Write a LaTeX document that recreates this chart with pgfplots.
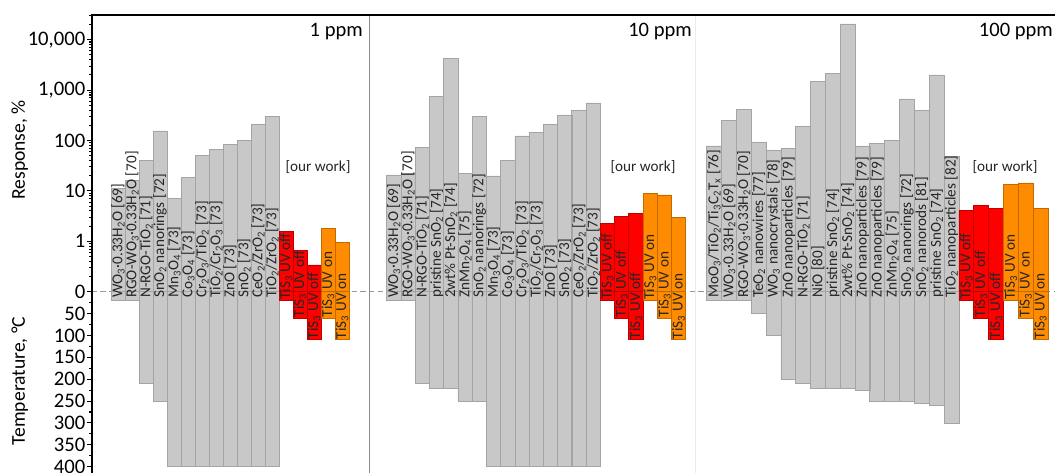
\documentclass[border=0pt]{standalone}
\usepackage{pgfplots}
\pgfplotsset{compat=1.18}
\usepackage{pgfplotstable}
\usepackage{fontspec}
\setmainfont{Carlito}
\definecolor{barg}{HTML}{C8C8C8}
\definecolor{edgeg}{HTML}{A4A4A4}
\definecolor{barr}{HTML}{FF0000}
\definecolor{edger}{HTML}{C00000}
\definecolor{baro}{HTML}{FF8C00}
\definecolor{edgeo}{HTML}{C06A00}
\newcommand{\s}[1]{\textsubscript{#1}}
\tikzset{glab/.style={rotate=90, anchor=west, inner sep=0pt, font=\fontsize{11.4}{12}\selectfont, text=black!85}}
\newcommand{\gl}[2]{\node[glab] at (axis cs:#1,-6.3) {#2};}
\newcommand{\tl}[3]{\node[glab] at (axis cs:#1,{-0.4375*#2+0.5}) {#3};}

% panel 1 (1 ppm): x = bar centre, R = response %, T = temperature C
\pgfplotstableread{
x R T
26.3 11 20
40.3 16 20
54.3 41 210
68.3 155 250
82.3 7.1 400
96.3 18.3 400
110.3 51 400
124.3 67 400
138.3 84 400
152.3 101 400
166.3 210 400
180.3 297 400
}\pAg
\pgfplotstableread{
x R T
194.3 1.55 20
208.3 0.67 60
222.3 0.34 110
}\pAr
\pgfplotstableread{
x R T
236.3 1.81 60
250.3 0.95 110
}\pAo
% panel 2 (10 ppm)
\pgfplotstableread{
x R T
302.1 20.7 20
316.3 22 20
330.6 72 210
344.8 740 220
359.1 4270 220
373.3 22.3 250
387.5 306 250
401.8 19.8 400
416.0 41 400
430.3 123 400
444.5 146 400
458.7 210 400
473.0 321 400
487.2 397 400
501.5 555 400
}\pBg
\pgfplotstableread{
x R T
515.7 2.23 20
529.9 3.08 60
544.2 3.59 110
}\pBr
\pgfplotstableread{
x R T
558.4 8.96 20
572.7 8.3 60
586.9 2.99 110
}\pBo
% panel 3 (100 ppm)
\pgfplotstableread{
x R T
622.4 78 20
637.2 254 20
652.1 416 20
666.9 90 50
681.7 63 100
696.6 70 200
711.4 188 210
726.2 1470 220
741.0 2150 220
755.9 20500 220
770.7 78 225
785.5 86.5 250
800.4 102 250
815.2 666 250
830.0 390 255
844.9 2000 260
859.7 47.7 300
}\pCg
\pgfplotstableread{
x R T
874.5 4.05 20
889.3 5.08 60
904.2 4.43 110
}\pCr
\pgfplotstableread{
x R T
919.0 13.7 20
933.8 14.4 60
948.7 4.52 110
}\pCo

\begin{document}
\begin{tikzpicture}
\path[use as bounding box] (0,0) rectangle (791.25pt,354.75pt);
\begin{axis}[
  at={(68.775pt,0pt)}, anchor=south west,
  scale only axis, width=722.5pt, height=343.5pt,
  xmin=0, xmax=963.3, ymin=-181.3, ymax=276.7,
  axis line style={draw=none},
  xtick=\empty,
  ytick={-175,-153.125,-131.25,-109.375,-87.5,-65.625,-43.75,-21.875,0,50.4,100.8,151.2,201.6,252},
  yticklabels={400,350,300,250,200,150,100,50,0,1,10,100,{1,000},{10,000}},
  minor ytick={-10.94,-32.81,-54.69,-76.56,-98.44,-120.31,-142.19,-164.06,
    15.17,24.05,30.34,35.23,39.22,42.59,45.52,48.09,
    65.57,74.45,80.74,85.63,89.62,92.99,95.92,98.49,
    115.97,124.85,131.14,136.03,140.02,143.39,146.32,148.89,
    166.37,175.25,181.54,186.43,190.42,193.79,196.72,199.29,
    216.77,225.65,231.94,236.83,240.82,244.19,247.12,249.69,
    267.17,276.05},
  ytick pos=left, tick align=outside,
  major tick length=3.6pt, minor tick length=2pt,
  tick style={black, line width=0.8pt},
  yticklabel style={font=\fontsize{15.5}{18}\selectfont, inner sep=1pt},
  clip=false,
]
% zero line and panel dividers
\draw[gray!80, dash pattern=on 4pt off 2.5pt, line width=0.7pt] (axis cs:0,0) -- (axis cs:963.3,0);
\draw[black!45, line width=0.6pt] (axis cs:277.3,-181.3) -- (axis cs:277.3,276.7);
\draw[black!8, line width=0.6pt] (axis cs:603.3,-181.3) -- (axis cs:603.3,276.7);

% panel 1
\addplot[ybar, bar shift=0, bar width=14, fill=barg, draw=edgeg, line width=0.5pt] table[x=x, y expr={50.4*(log10(\thisrow{R})+1)}] {\pAg};
\addplot[ybar, bar shift=0, bar width=14, fill=barg, draw=edgeg, line width=0.5pt] table[x=x, y expr={-0.4375*\thisrow{T}}] {\pAg};
\addplot[ybar, bar shift=0, bar width=14, fill=barr, draw=edger, line width=0.5pt] table[x=x, y expr={50.4*(log10(\thisrow{R})+1)}] {\pAr};
\addplot[ybar, bar shift=0, bar width=14, fill=barr, draw=edger, line width=0.5pt] table[x=x, y expr={-0.4375*\thisrow{T}}] {\pAr};
\addplot[ybar, bar shift=0, bar width=14, fill=baro, draw=edgeo, line width=0.5pt] table[x=x, y expr={50.4*(log10(\thisrow{R})+1)}] {\pAo};
\addplot[ybar, bar shift=0, bar width=14, fill=baro, draw=edgeo, line width=0.5pt] table[x=x, y expr={-0.4375*\thisrow{T}}] {\pAo};
% panel 2
\addplot[ybar, bar shift=0, bar width=14.24, fill=barg, draw=edgeg, line width=0.5pt] table[x=x, y expr={50.4*(log10(\thisrow{R})+1)}] {\pBg};
\addplot[ybar, bar shift=0, bar width=14.24, fill=barg, draw=edgeg, line width=0.5pt] table[x=x, y expr={-0.4375*\thisrow{T}}] {\pBg};
\addplot[ybar, bar shift=0, bar width=14.24, fill=barr, draw=edger, line width=0.5pt] table[x=x, y expr={50.4*(log10(\thisrow{R})+1)}] {\pBr};
\addplot[ybar, bar shift=0, bar width=14.24, fill=barr, draw=edger, line width=0.5pt] table[x=x, y expr={-0.4375*\thisrow{T}}] {\pBr};
\addplot[ybar, bar shift=0, bar width=14.24, fill=baro, draw=edgeo, line width=0.5pt] table[x=x, y expr={50.4*(log10(\thisrow{R})+1)}] {\pBo};
\addplot[ybar, bar shift=0, bar width=14.24, fill=baro, draw=edgeo, line width=0.5pt] table[x=x, y expr={-0.4375*\thisrow{T}}] {\pBo};
% panel 3
\addplot[ybar, bar shift=0, bar width=14.83, fill=barg, draw=edgeg, line width=0.5pt] table[x=x, y expr={50.4*(log10(\thisrow{R})+1)}] {\pCg};
\addplot[ybar, bar shift=0, bar width=14.83, fill=barg, draw=edgeg, line width=0.5pt] table[x=x, y expr={-0.4375*\thisrow{T}}] {\pCg};
\addplot[ybar, bar shift=0, bar width=14.83, fill=barr, draw=edger, line width=0.5pt] table[x=x, y expr={50.4*(log10(\thisrow{R})+1)}] {\pCr};
\addplot[ybar, bar shift=0, bar width=14.83, fill=barr, draw=edger, line width=0.5pt] table[x=x, y expr={-0.4375*\thisrow{T}}] {\pCr};
\addplot[ybar, bar shift=0, bar width=14.83, fill=baro, draw=edgeo, line width=0.5pt] table[x=x, y expr={50.4*(log10(\thisrow{R})+1)}] {\pCo};
\addplot[ybar, bar shift=0, bar width=14.83, fill=baro, draw=edgeo, line width=0.5pt] table[x=x, y expr={-0.4375*\thisrow{T}}] {\pCo};

% labels panel 1
\gl{26.3}{WO\s3·0.33H\s2O [69]}
\gl{40.3}{RGO-WO\s3·0.33H\s2O [70]}
\gl{54.3}{N-RGO-TiO\s2 [71]}
\gl{68.3}{SnO\s2 nanorings [72]}
\gl{82.3}{Mn\s3O\s4 [73]}
\gl{96.3}{Co\s3O\s4 [73]}
\gl{110.3}{Cr\s2O\s3/TiO\s2 [73]}
\gl{124.3}{TiO\s2/Cr\s2O\s3 [73]}
\gl{138.3}{ZnO [73]}
\gl{152.3}{SnO\s2 [73]}
\gl{166.3}{CeO\s2/ZrO\s2 [73]}
\gl{180.3}{TiO\s2/ZrO\s2 [73]}
\tl{194.3}{20}{TiS\s3 UV off}
\tl{208.3}{60}{TiS\s3 UV off}
\tl{222.3}{110}{TiS\s3 UV off}
\tl{236.3}{60}{TiS\s3 UV on}
\tl{250.3}{110}{TiS\s3 UV on}
% labels panel 2
\gl{302.1}{WO\s3·0.33H\s2O [69]}
\gl{316.3}{RGO-WO\s3·0.33H\s2O [70]}
\gl{330.6}{N-RGO-TiO\s2 [71]}
\gl{344.8}{pristine SnO\s2 [74]}
\gl{359.1}{2wt\% Pt-SnO\s2 [74]}
\gl{373.3}{ZnMn\s2O\s4 [75]}
\gl{387.5}{SnO\s2 nanorings [72]}
\gl{401.8}{Mn\s3O\s4 [73]}
\gl{416.0}{Co\s3O\s4 [73]}
\gl{430.3}{Cr\s2O\s3/TiO\s2 [73]}
\gl{444.5}{TiO\s2/Cr\s2O\s3 [73]}
\gl{458.7}{ZnO [73]}
\gl{473.0}{SnO\s2 [73]}
\gl{487.2}{CeO\s2/ZrO\s2 [73]}
\gl{501.5}{TiO\s2/ZrO\s2 [73]}
\tl{515.7}{20}{TiS\s3 UV off}
\tl{529.9}{60}{TiS\s3 UV off}
\tl{544.2}{110}{TiS\s3 UV off}
\tl{558.4}{20}{TiS\s3 UV on}
\tl{572.7}{60}{TiS\s3 UV on}
\tl{586.9}{110}{TiS\s3 UV on}
% labels panel 3
\gl{622.4}{MoO\s3/TiO\s2/Ti\s3C\s2T\s{x} [76]}
\gl{637.2}{WO\s3·0.33H\s2O [69]}
\gl{652.1}{RGO-WO\s3·0.33H\s2O [70]}
\gl{666.9}{TeO\s2 nanowires [77]}
\gl{681.7}{WO\s3 nanocrystals [78]}
\gl{696.6}{ZnO nanoparticles [79]}
\gl{711.4}{N-RGO-TiO\s2 [71]}
\gl{726.2}{NiO [80]}
\gl{741.0}{pristine SnO\s2 [74]}
\gl{755.9}{2wt\% Pt-SnO\s2 [74]}
\gl{770.7}{ZnO nanoparticles [79]}
\gl{785.5}{ZnO nanoparticles [79]}
\gl{800.4}{ZnMn\s2O\s4 [75]}
\gl{815.2}{SnO\s2 nanorings [72]}
\gl{830.0}{SnO\s2 nanorods [81]}
\gl{844.9}{pristine SnO\s2 [74]}
\gl{859.7}{TiO\s2 nanoparticles [82]}
\tl{874.5}{20}{TiS\s3 UV off}
\tl{889.3}{60}{TiS\s3 UV off}
\tl{904.2}{110}{TiS\s3 UV off}
\tl{919.0}{20}{TiS\s3 UV on}
\tl{933.8}{60}{TiS\s3 UV on}
\tl{948.7}{110}{TiS\s3 UV on}

% panel titles and notes
\node[anchor=east, font=\fontsize{15.4}{17}\selectfont, inner sep=0pt] at (axis cs:271.3,259.7) {1 ppm};
\node[anchor=east, font=\fontsize{15.4}{17}\selectfont, inner sep=0pt] at (axis cs:600.3,259.7) {10 ppm};
\node[anchor=east, font=\fontsize{15.4}{17}\selectfont, inner sep=0pt] at (axis cs:961.3,259.7) {100 ppm};
\node[font=\fontsize{11.4}{13}\selectfont, text=black!85] at (axis cs:226.3,124.7) {[our work]};
\node[font=\fontsize{11.4}{13}\selectfont, text=black!85] at (axis cs:551.3,124.7) {[our work]};
\node[font=\fontsize{11.4}{13}\selectfont, text=black!85] at (axis cs:913.3,124.7) {[our work]};

% axis titles
\node[rotate=90, font=\fontsize{14.7}{16}\selectfont] at (axis cs:-72,141.7) {Response, \%};
\node[rotate=90, font=\fontsize{14.7}{16}\selectfont] at (axis cs:-72,-89.3) {Temperature, °C};

% frame lines
\draw[black, line width=1.5pt] (axis cs:0,-181.3) -- (axis cs:0,276.7) -- (axis cs:963.3,276.7);
\end{axis}
\end{tikzpicture}
\end{document}
